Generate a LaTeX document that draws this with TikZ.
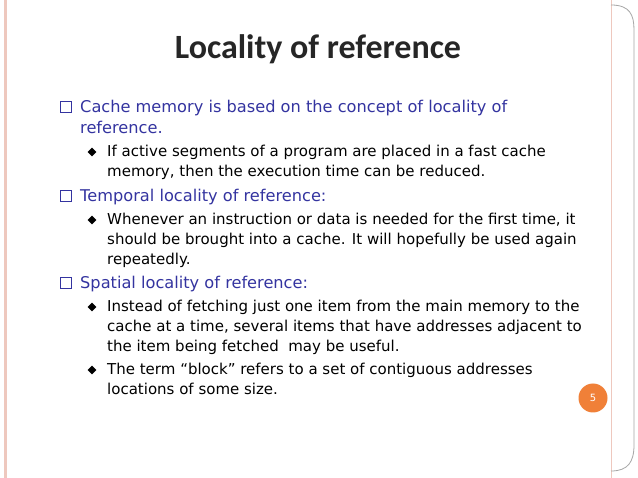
\documentclass[tikz,border=0pt]{standalone}
\usepackage{fontspec}
\setmainfont{DejaVu Sans}
\newfontfamily\titlefont{Carlito}
\definecolor{ptblue}{RGB}{52,52,160}
\definecolor{ptpink}{RGB}{238,200,190}
\definecolor{ptorange}{RGB}{240,128,56}
\tikzset{
  lvone/.style={anchor=base west,inner sep=0pt,text=ptblue,font=\fontsize{16.2}{18}\selectfont},
  lvtwo/.style={anchor=base west,inner sep=0pt,text=black,font=\fontsize{15}{16}\selectfont},
  sqbul/.style={draw=ptblue,line width=1pt,minimum size=11pt,inner sep=0pt},
  dibul/.style={fill=black,diamond,minimum size=9pt,inner sep=0pt},
}
\usetikzlibrary{shapes.geometric}
\begin{document}
\begin{tikzpicture}[x=1pt,y=-1pt]
\useasboundingbox (0,0) rectangle (638,478);
\fill[white] (0,0) rectangle (638,478);
\draw[ptpink,line width=3pt] (5,0) -- (5,478);
\draw[ptpink,line width=1pt] (611,0) -- (611,478);
\draw[gray!70,line width=0.8pt] (611,5) .. controls (630,5) and (634,15) .. (634,30) -- (634,445) .. controls (634,462) and (628,471) .. (611,471);
\node[circle,fill=ptorange,minimum size=29pt,inner sep=0pt,text=white,font=\fontsize{10}{11}\selectfont] (pg) at (593,398) {5};
\node[anchor=base,inner sep=0pt,font=\titlefont\bfseries\fontsize{34}{36}\selectfont,text=black!85] (title) at (318,59) {Locality of reference};
\node[sqbul] (s1) at (66,107) {};
\node[lvone] (a1) at (80,113) {Cache memory is based on the concept of locality of};
\node[lvone] (a2) at (80,134) {reference.};
\node[dibul] (d1) at (92,152) {};
\node[lvtwo] (b1) at (107,157) {If active segments of a program are placed in a fast cache};
\node[lvtwo] (b2) at (107,177) {memory, then the execution time can be reduced.};
\node[sqbul] (s2) at (66,196) {};
\node[lvone] (a3) at (80,202) {Temporal locality of reference:};
\node[dibul] (d2) at (92,220) {};
\node[lvtwo] (b3) at (107,225) {Whenever an instruction or data is needed for the first time, it};
\node[lvtwo] (b4) at (107,245) {should be brought into a cache. It will hopefully be used again};
\node[lvtwo] (b5) at (107,265) {repeatedly.};
\node[sqbul] (s3) at (66,283) {};
\node[lvone] (a4) at (80,289) {Spatial locality of reference:};
\node[dibul] (d3) at (92,307) {};
\node[lvtwo] (b6) at (107,312) {Instead of fetching just one item from the main memory to the};
\node[lvtwo] (b7) at (107,332) {cache at a time, several items that have addresses adjacent to};
\node[lvtwo] (b8) at (107,352) {the item being fetched\ \ may be useful.};
\node[dibul] (d4) at (92,370) {};
\node[lvtwo] (b9) at (107,375) {The term “block” refers to a set of contiguous addresses};
\node[lvtwo] (b10) at (107,395) {locations of some size.};
\end{tikzpicture}
\end{document}
